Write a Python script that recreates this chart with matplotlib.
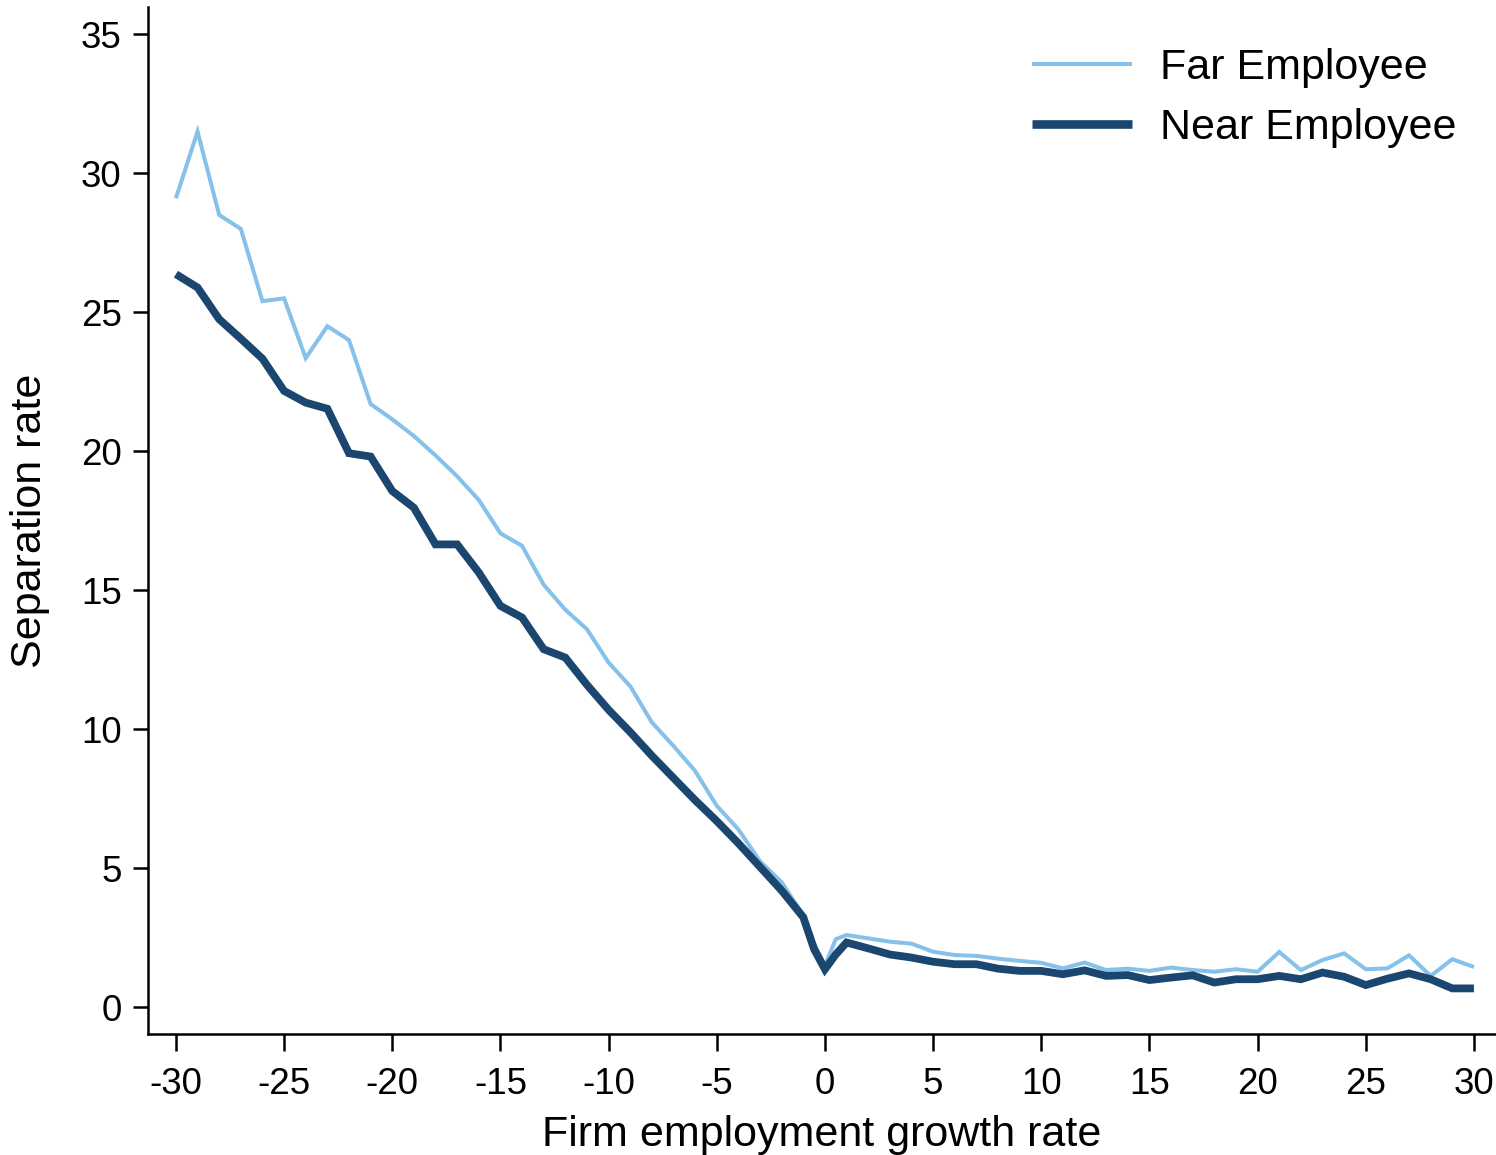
import matplotlib
matplotlib.use("Agg")
import matplotlib.pyplot as plt

plt.rcParams['font.family'] = ['Liberation Sans', 'DejaVu Sans']

# growth rate bins (half steps next to zero)
growth = list(range(-30, 0)) + [-0.5, 0, 0.5] + list(range(1, 31))

far_emp = [29.1, 31.5, 28.5, 28.0, 25.4, 25.5, 23.35, 24.5, 24.0, 21.7,
           21.15, 20.55, 19.85, 19.1, 18.25, 17.05, 16.6, 15.2, 14.3, 13.6,
           12.4, 11.55, 10.25, 9.4, 8.5, 7.25, 6.4, 5.25, 4.5, 3.3,
           2.3, 1.5, 2.45,
           2.6, 2.48, 2.36, 2.29, 2.0, 1.88, 1.85, 1.75, 1.67, 1.6,
           1.4, 1.61, 1.34, 1.39, 1.31, 1.43, 1.34, 1.28, 1.37, 1.28,
           1.99, 1.34, 1.70, 1.94, 1.37, 1.40, 1.87, 1.13, 1.73, 1.45]

near_emp = [26.37, 25.89, 24.75, 24.05, 23.33, 22.17, 21.75, 21.53, 19.93, 19.81,
            18.57, 17.97, 16.65, 16.65, 15.64, 14.44, 14.02, 12.88, 12.58, 11.6,
            10.7, 9.9, 9.05, 8.25, 7.45, 6.7, 5.9, 5.05, 4.2, 3.24,
            2.09, 1.37, 1.9,
            2.33, 2.12, 1.9, 1.79, 1.64, 1.55, 1.55, 1.39, 1.31, 1.31,
            1.19, 1.33, 1.13, 1.16, 0.98, 1.07, 1.15, 0.89, 1.01, 1.01,
            1.13, 1.01, 1.25, 1.10, 0.80, 1.03, 1.22, 1.01, 0.68, 0.68]

xticks = list(range(-30, 31, 5))
yticks = list(range(0, 36, 5))

fig = plt.figure(figsize=(14.96, 11.55), dpi=100)
ax = fig.add_axes([148 / 1496, 121 / 1155, 1 - 148 / 1496, (1034 - 7) / 1155])

ax.plot(growth, far_emp, color='#86c1ea', lw=2.9, solid_capstyle='butt',
        solid_joinstyle='miter', label='Far Employee')
ax.plot(growth, near_emp, color='#1a466f', lw=5.6, solid_capstyle='butt',
        solid_joinstyle='miter', label='Near Employee')

ax.set_xlim(-31.29, 31.02)
ax.set_ylim(-0.96, 35.98)
ax.set_xticks(xticks)
ax.set_yticks(yticks)
ax.set_xticklabels([str(t) for t in xticks])
ax.tick_params(axis='both', labelsize=26.5, width=1.8, direction='out')
ax.tick_params(axis='x', length=12, pad=12)
ax.tick_params(axis='y', length=11, pad=8)

for s in ['top', 'right']:
    ax.spines[s].set_visible(False)
for s in ['left', 'bottom']:
    ax.spines[s].set_linewidth(1.8)

ax.set_xlabel('Firm employment growth rate', fontsize=31, labelpad=9)
ax.set_ylabel('Separation rate', fontsize=31, labelpad=22)

leg = ax.legend(frameon=False, fontsize=31, loc='upper right',
                bbox_to_anchor=(1456 / 1496, (1155 - 48) / 1155),
                bbox_transform=fig.transFigure, borderaxespad=0, borderpad=0,
                handlelength=2.3, handletextpad=0.65, labelspacing=0.46)
leg.get_lines()[1].set_linewidth(6.2)

fig.savefig('out.png', dpi=100)
